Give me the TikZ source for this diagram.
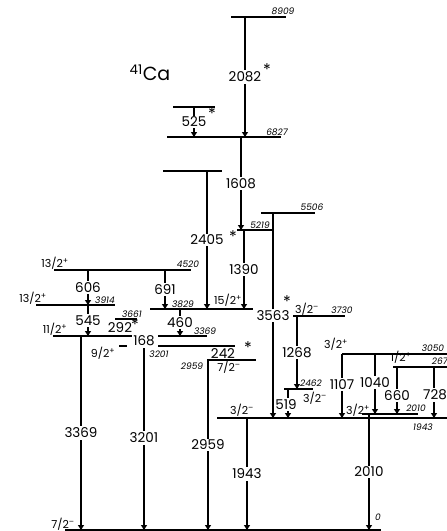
\documentclass[tikz,border=0pt]{standalone}
\usepackage{fontspec}
\setmainfont{Poppins}
\usetikzlibrary{arrows.meta}
\newcommand\tsz{\fontsize{13.5}{14}\selectfont}
\newcommand\esz{\fontsize{9}{9}\selectfont\itshape}
\newcommand\ssz{\fontsize{11}{12}\selectfont}
\newcommand\spn[2]{#1\textsuperscript{#2}}
\begin{document}
\begin{tikzpicture}[x=1pt,y=-1pt]
\tikzset{
 lev/.style={line width=1.1pt},
 trn/.style={line width=2.8pt},
 arr/.style={-{Triangle[length=5pt,width=6pt]}},
 tlab/.style={fill=white, inner sep=1.5pt, font=\tsz},
 elab/.style={inner sep=0pt, font=\esz},
 slab/.style={inner sep=0pt, font=\ssz},
 star/.style={inner sep=0pt, font=\fontsize{16}{16}\selectfont},
}
\path[use as bounding box] (0,0) rectangle (447,531);

% title
\node[inner sep=0pt, font=\fontsize{19}{20}\selectfont] (title) at (150,73) {\textsuperscript{41}Ca};

% levels
\draw[lev] (231,17) -- (286,17);
\draw[lev] (173,107) -- (215,107);
\draw[lev] (167,137) -- (281,137);
\draw[lev] (163,171) -- (222,171);
\draw[lev] (261,213) -- (315,213);
\draw[lev] (237,230) -- (272,230);
\draw[lev] (54,270) -- (191,270);
\draw[lev] (36,305) -- (115,305);
\draw[lev] (150,309) -- (253,309);
\draw[lev] (293,316) -- (345,316);
\draw[lev] (115,319) -- (137,319);
\draw[lev] (53,336) -- (133,336);
\draw[lev] (158,336) -- (207,336);
\draw[lev] (119,346) -- (127,346);
\draw[lev] (158,346) -- (235,346);
\draw[lev] (207,360) -- (256,360);
\draw[lev] (342,354) -- (447,354);
\draw[lev] (393,367) -- (447,367);
\draw[lev] (284,389) -- (313,389);
\draw[lev] (362,414) -- (418,414);
\draw[lev] (217,418) -- (447,418);
\draw[lev] (65,530) -- (381,530);

% transition end points
\coordinate (a2082) at (245,17);  \coordinate (b2082) at (245,137);
\coordinate (a525) at (194,107);  \coordinate (b525) at (194,137);
\coordinate (a1608) at (241,137); \coordinate (b1608) at (241,230);
\coordinate (a2405) at (207,171); \coordinate (b2405) at (207,309);
\coordinate (a1390) at (244,230); \coordinate (b1390) at (244,309);
\coordinate (a3563) at (273,213); \coordinate (b3563) at (273,418);
\coordinate (a606) at (88,270);   \coordinate (b606) at (88,305);
\coordinate (a691) at (165,270);  \coordinate (b691) at (165,309);
\coordinate (a545) at (88,305);   \coordinate (b545) at (88,336);
\coordinate (a460) at (180,309);  \coordinate (b460) at (180,336);
\coordinate (a3369) at (81,336);  \coordinate (b3369) at (81,530);
\coordinate (a3201) at (144,346); \coordinate (b3201) at (144,530);
\coordinate (a2959) at (208,360); \coordinate (b2959) at (208,530);
\coordinate (a1268) at (297,316); \coordinate (b1268) at (297,389);
\coordinate (a519) at (288,389);  \coordinate (b519) at (288,418);
\coordinate (a1107) at (342,354); \coordinate (b1107) at (342,418);
\coordinate (a1040) at (375,354); \coordinate (b1040) at (375,414);
\coordinate (a660) at (397,367);  \coordinate (b660) at (397,414);
\coordinate (a728) at (434,367);  \coordinate (b728) at (434,418);
\coordinate (a1943) at (247,418); \coordinate (b1943) at (247,530);
\coordinate (a2010) at (369,414); \coordinate (b2010) at (369,530);

% transitions
\draw[trn,arr] (a2082) -- node[tlab] (l2082) {2082} (b2082);
\draw[trn,arr] (a525) -- node[tlab] (l525) {525} (b525);
\draw[trn,arr] (a1608) -- node[tlab] (l1608) {1608} (b1608);
\draw[trn,arr] (a2405) -- node[tlab] (l2405) {2405} (b2405);
\draw[trn,arr] (a1390) -- node[tlab] (l1390) {1390} (b1390);
\draw[trn,arr] (a3563) -- node[tlab] (l3563) {3563} (b3563);
\draw[trn,arr] (a606) -- node[tlab] (l606) {606} (b606);
\draw[trn,arr] (a691) -- node[tlab] (l691) {691} (b691);
\draw[trn,arr] (a545) -- node[tlab] (l545) {545} (b545);
\draw[trn,arr] (a460) -- node[tlab] (l460) {460} (b460);
\draw[trn,arr] (a3369) -- node[tlab] (l3369) {3369} (b3369);
\draw[trn,arr] (a3201) -- node[tlab] (l3201) {3201} (b3201);
\draw[trn,arr] (a2959) -- node[tlab] (l2959) {2959} (b2959);
\draw[trn,arr] (a1268) -- node[tlab] (l1268) {1268} (b1268);
\draw[trn,arr] (a519) -- node[tlab,pos=0.55,xshift=-2pt] (l519) {519} (b519);
\draw[trn,arr] (a1107) -- node[tlab,pos=0.47] (l1107) {1107} (b1107);
\draw[trn,arr] (a1040) -- node[tlab,pos=0.47] (l1040) {1040} (b1040);
\draw[trn,arr] (a660) -- node[tlab,pos=0.6] (l660) {660} (b660);
\draw[trn,arr] (a728) -- node[tlab,pos=0.55,xshift=1pt] (l728) {728} (b728);
\draw[trn,arr] (a1943) -- node[tlab] (l1943) {1943} (b1943);
\draw[trn,arr] (a2010) -- node[tlab] (l2010) {2010} (b2010);

% transitions shown by label only
\node[tlab] (l292) at (120,328) {292};
\node[tlab] (l168) at (144,341) {168};
\node[tlab,fill=none] (l242) at (223,354) {242};

% asterisks
\node[star] (s2082) at (267,70) {*};
\node[star] (s525) at (212,114) {*};
\node[star] (s2405) at (233,237) {*};
\node[star] (s3563) at (287,302) {*};
\node[star] (s292) at (135,325) {*};
\node[star] (s242) at (248,348) {*};

% level energies
\node[elab] (e8909) at (283,11) {8909};
\node[elab] (e6827) at (277,132) {6827};
\node[elab] (e5506) at (312,207) {5506};
\node[elab] (e5219) at (260,225) {5219};
\node[elab] (e4520) at (188,264) {4520};
\node[elab] (e3914) at (105,300) {3914};
\node[elab] (e3829) at (183,304) {3829};
\node[elab] (e3730) at (342,310) {3730};
\node[elab] (e3661) at (132,314) {3661};
\node[elab] (e3369) at (205,331) {3369};
\node[elab] (e3201) at (159,354) {3201};
\node[elab] (e2959) at (192,366) {2959};
\node[elab] (e2462) at (311,383) {2462};
\node[elab] (e3050) at (433,348) {3050};
\node[elab,anchor=east] (e267) at (448,361) {267};
\node[elab] (e2010) at (416,408) {2010};
\node[elab] (e1943) at (423,427) {1943};
\node[elab] (e0) at (378,517) {0};

% spins
\node[slab] (j4520) at (55,263) {\spn{13/2}{+}};
\node[slab] (j3914) at (33,298) {\spn{13/2}{+}};
\node[slab] (j3369) at (55,329) {\spn{11/2}{+}};
\node[slab] (j3201) at (103,353) {\spn{9/2}{+}};
\node[slab] (j3829) at (228,300) {\spn{15/2}{+}};
\node[slab] (j2959) at (229,367) {\spn{7/2}{--}};
\node[slab] (j3730) at (307,309) {\spn{3/2}{--}};
\node[slab] (j2462) at (315,398) {\spn{3/2}{--}};
\node[slab] (j3050) at (336,344) {\spn{3/2}{+}};
\node[slab] (j2671) at (401,357) {\spn{1/2}{+}};
\node[slab] (j2010) at (358,410) {\spn{3/2}{+}};
\node[slab] (j1943) at (242,410) {\spn{3/2}{--}};
\node[slab] (j0) at (63,524) {\spn{7/2}{--}};
\end{tikzpicture}
\end{document}
